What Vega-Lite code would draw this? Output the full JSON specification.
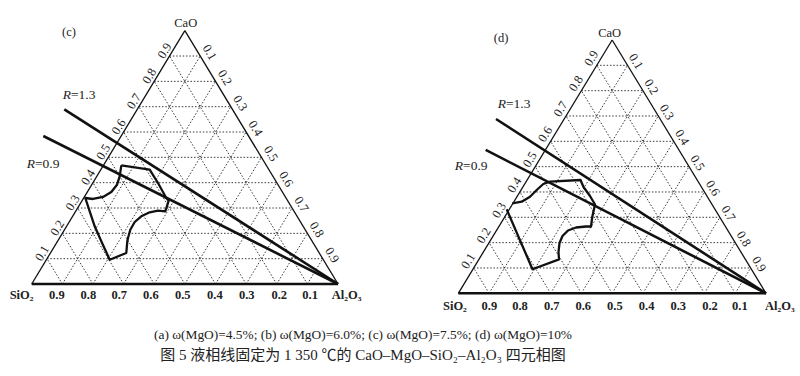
{
  "$schema": "https://vega.github.io/schema/vega-lite/v6.json",
  "padding": 0,
  "background": "white",
  "spacing": 0,
  "config": {"view": {"stroke": null}, "font": "Liberation Serif"},
  "title": {
    "text": "(a) ω(MgO)=4.5%; (b) ω(MgO)=6.0%; (c) ω(MgO)=7.5%; (d) ω(MgO)=10%",
    "subtitle": "图 5  液相线固定为 1 350 ℃的 CaO–MgO–SiO₂–Al₂O₃ 四元相图",
    "orient": "bottom",
    "anchor": "middle",
    "dx": -37,
    "offset": 8,
    "font": "Liberation Serif",
    "fontSize": 13.4,
    "fontWeight": "normal",
    "color": "#222222",
    "subtitleFont": "Liberation Serif, Noto Sans CJK SC",
    "subtitleFontSize": 15,
    "subtitleColor": "#222222",
    "subtitlePadding": 7
  },
  "datasets": {
    "grid": [
      {"x": 0.05, "y": 0.1, "x2": 0.95, "y2": 0.1},
      {"x": 0.1, "y": 0.2, "x2": 0.9, "y2": 0.2},
      {"x": 0.15, "y": 0.3, "x2": 0.85, "y2": 0.3},
      {"x": 0.2, "y": 0.4, "x2": 0.8, "y2": 0.4},
      {"x": 0.25, "y": 0.5, "x2": 0.75, "y2": 0.5},
      {"x": 0.3, "y": 0.6, "x2": 0.7, "y2": 0.6},
      {"x": 0.35, "y": 0.7, "x2": 0.65, "y2": 0.7},
      {"x": 0.4, "y": 0.8, "x2": 0.6, "y2": 0.8},
      {"x": 0.45, "y": 0.9, "x2": 0.55, "y2": 0.9},
      {"x": 0.1, "y": 0, "x2": 0.55, "y2": 0.9},
      {"x": 0.2, "y": 0, "x2": 0.6, "y2": 0.8},
      {"x": 0.3, "y": 0, "x2": 0.65, "y2": 0.7},
      {"x": 0.4, "y": 0, "x2": 0.7, "y2": 0.6},
      {"x": 0.5, "y": 0, "x2": 0.75, "y2": 0.5},
      {"x": 0.6, "y": 0, "x2": 0.8, "y2": 0.4},
      {"x": 0.7, "y": 0, "x2": 0.85, "y2": 0.3},
      {"x": 0.8, "y": 0, "x2": 0.9, "y2": 0.2},
      {"x": 0.9, "y": 0, "x2": 0.95, "y2": 0.1},
      {"x": 0.1, "y": 0, "x2": 0.05, "y2": 0.1},
      {"x": 0.2, "y": 0, "x2": 0.1, "y2": 0.2},
      {"x": 0.3, "y": 0, "x2": 0.15, "y2": 0.3},
      {"x": 0.4, "y": 0, "x2": 0.2, "y2": 0.4},
      {"x": 0.5, "y": 0, "x2": 0.25, "y2": 0.5},
      {"x": 0.6, "y": 0, "x2": 0.3, "y2": 0.6},
      {"x": 0.7, "y": 0, "x2": 0.35, "y2": 0.7},
      {"x": 0.8, "y": 0, "x2": 0.4, "y2": 0.8},
      {"x": 0.9, "y": 0, "x2": 0.45, "y2": 0.9}
    ],
    "sides": [
      {"x": 0, "y": 0, "x2": 0.5, "y2": 1},
      {"x": 1, "y": 0, "x2": 0.5, "y2": 1}
    ],
    "base": [
      {"x": 0, "y": 0, "x2": 1, "y2": 0}
    ],
    "rlines": [
      {"panel": "c", "R": "1.3", "x": 0.1064, "y": 0.6897, "x2": 1, "y2": 0},
      {"panel": "c", "R": "0.9", "x": 0.0379, "y": 0.5843, "x2": 1, "y2": 0},
      {"panel": "d", "R": "1.3", "x": 0.1225, "y": 0.688, "x2": 1, "y2": 0},
      {"panel": "d", "R": "0.9", "x": 0.089, "y": 0.566, "x2": 1, "y2": 0}
    ],
    "curve": [
      {"panel": "c", "i": 0, "x": 0.2925, "y": 0.4686},
      {"panel": "c", "i": 1, "x": 0.3852, "y": 0.4512},
      {"panel": "c", "i": 2, "x": 0.4123, "y": 0.3987},
      {"panel": "c", "i": 3, "x": 0.4394, "y": 0.3395},
      {"panel": "c", "i": 4, "x": 0.4473, "y": 0.3289},
      {"panel": "c", "i": 5, "x": 0.4362, "y": 0.287},
      {"panel": "c", "i": 6, "x": 0.4123, "y": 0.2894},
      {"panel": "c", "i": 7, "x": 0.3852, "y": 0.2831},
      {"panel": "c", "i": 8, "x": 0.3578, "y": 0.2673},
      {"panel": "c", "i": 9, "x": 0.3363, "y": 0.2448},
      {"panel": "c", "i": 10, "x": 0.3219, "y": 0.2144},
      {"panel": "c", "i": 11, "x": 0.3144, "y": 0.1816},
      {"panel": "c", "i": 12, "x": 0.3121, "y": 0.1686},
      {"panel": "c", "i": 13, "x": 0.3088, "y": 0.1224},
      {"panel": "c", "i": 14, "x": 0.2547, "y": 0.0959},
      {"panel": "c", "i": 15, "x": 0.2272, "y": 0.1686},
      {"panel": "c", "i": 16, "x": 0.2057, "y": 0.2278},
      {"panel": "c", "i": 17, "x": 0.1894, "y": 0.287},
      {"panel": "c", "i": 18, "x": 0.175, "y": 0.3395},
      {"panel": "c", "i": 19, "x": 0.2001, "y": 0.3356},
      {"panel": "c", "i": 20, "x": 0.2328, "y": 0.3435},
      {"panel": "c", "i": 21, "x": 0.2599, "y": 0.3632},
      {"panel": "c", "i": 22, "x": 0.2785, "y": 0.392},
      {"panel": "c", "i": 23, "x": 0.2873, "y": 0.4252},
      {"panel": "c", "i": 24, "x": 0.2925, "y": 0.4686},
      {"panel": "d", "i": 0, "x": 0.1573, "y": 0.3316},
      {"panel": "d", "i": 1, "x": 0.2411, "y": 0.0948},
      {"panel": "d", "i": 2, "x": 0.3273, "y": 0.1342},
      {"panel": "d", "i": 3, "x": 0.3256, "y": 0.163},
      {"panel": "d", "i": 4, "x": 0.3289, "y": 0.1986},
      {"panel": "d", "i": 5, "x": 0.3386, "y": 0.2262},
      {"panel": "d", "i": 6, "x": 0.3565, "y": 0.2479},
      {"panel": "d", "i": 7, "x": 0.3825, "y": 0.2598},
      {"panel": "d", "i": 8, "x": 0.415, "y": 0.2637},
      {"panel": "d", "i": 9, "x": 0.4313, "y": 0.2637},
      {"panel": "d", "i": 10, "x": 0.4355, "y": 0.3024},
      {"panel": "d", "i": 11, "x": 0.4443, "y": 0.3506},
      {"panel": "d", "i": 12, "x": 0.428, "y": 0.3841},
      {"panel": "d", "i": 13, "x": 0.4069, "y": 0.4197},
      {"panel": "d", "i": 14, "x": 0.3971, "y": 0.4473},
      {"panel": "d", "i": 15, "x": 0.298, "y": 0.4406},
      {"panel": "d", "i": 16, "x": 0.2762, "y": 0.4315},
      {"panel": "d", "i": 17, "x": 0.2548, "y": 0.4078},
      {"panel": "d", "i": 18, "x": 0.233, "y": 0.3814},
      {"panel": "d", "i": 19, "x": 0.206, "y": 0.3616},
      {"panel": "d", "i": 20, "x": 0.1755, "y": 0.3553}
    ],
    "leftTicks": [
      {"label": "0.1", "x": 0.05, "y": 0.1},
      {"label": "0.2", "x": 0.1, "y": 0.2},
      {"label": "0.3", "x": 0.15, "y": 0.3},
      {"label": "0.4", "x": 0.2, "y": 0.4},
      {"label": "0.5", "x": 0.25, "y": 0.5},
      {"label": "0.6", "x": 0.3, "y": 0.6},
      {"label": "0.7", "x": 0.35, "y": 0.7},
      {"label": "0.8", "x": 0.4, "y": 0.8},
      {"label": "0.9", "x": 0.45, "y": 0.9}
    ],
    "rightTicks": [
      {"label": "0.1", "x": 0.55, "y": 0.9},
      {"label": "0.2", "x": 0.6, "y": 0.8},
      {"label": "0.3", "x": 0.65, "y": 0.7},
      {"label": "0.4", "x": 0.7, "y": 0.6},
      {"label": "0.5", "x": 0.75, "y": 0.5},
      {"label": "0.6", "x": 0.8, "y": 0.4},
      {"label": "0.7", "x": 0.85, "y": 0.3},
      {"label": "0.8", "x": 0.9, "y": 0.2},
      {"label": "0.9", "x": 0.95, "y": 0.1}
    ],
    "bottomTicks": [
      {"panel": "c", "label": "0.9", "x": 0.082, "y": -0.0434},
      {"panel": "c", "label": "0.8", "x": 0.185, "y": -0.0434},
      {"panel": "c", "label": "0.7", "x": 0.286, "y": -0.0434},
      {"panel": "c", "label": "0.6", "x": 0.389, "y": -0.0434},
      {"panel": "c", "label": "0.5", "x": 0.493, "y": -0.0434},
      {"panel": "c", "label": "0.4", "x": 0.598, "y": -0.0434},
      {"panel": "c", "label": "0.3", "x": 0.702, "y": -0.0434},
      {"panel": "c", "label": "0.2", "x": 0.808, "y": -0.0434},
      {"panel": "c", "label": "0.1", "x": 0.909, "y": -0.0434},
      {"panel": "d", "label": "0.9", "x": 0.101, "y": -0.0501},
      {"panel": "d", "label": "0.8", "x": 0.2005, "y": -0.0501},
      {"panel": "d", "label": "0.7", "x": 0.3035, "y": -0.0501},
      {"panel": "d", "label": "0.6", "x": 0.406, "y": -0.0501},
      {"panel": "d", "label": "0.5", "x": 0.509, "y": -0.0501},
      {"panel": "d", "label": "0.4", "x": 0.612, "y": -0.0501},
      {"panel": "d", "label": "0.3", "x": 0.715, "y": -0.0501},
      {"panel": "d", "label": "0.2", "x": 0.818, "y": -0.0501},
      {"panel": "d", "label": "0.1", "x": 0.915, "y": -0.0501}
    ],
    "vertexLabels": [
      {"panel": "c", "label": "SiO₂", "x": -0.033, "y": -0.0434},
      {"panel": "c", "label": "Al₂O₃", "x": 1.028, "y": -0.0434},
      {"panel": "d", "label": "SiO₂", "x": -0.011, "y": -0.0501},
      {"panel": "d", "label": "Al₂O₃", "x": 1.045, "y": -0.0501}
    ],
    "annot": [
      {"panel": "c", "text": "CaO", "x": 0.5028, "y": 1.0316},
      {"panel": "c", "text": "(c)", "x": 0.1218, "y": 0.9949},
      {"panel": "d", "text": "CaO", "x": 0.492, "y": 1.0265},
      {"panel": "d", "text": "(d)", "x": 0.1388, "y": 1.0079}
    ],
    "rlabels": [
      {"panel": "c", "v": "=1.3", "x": 0.1283, "y": 0.7462},
      {"panel": "c", "v": "=0.9", "x": 0.0108, "y": 0.4738},
      {"panel": "d", "v": "=1.3", "x": 0.155, "y": 0.7473},
      {"panel": "d", "v": "=0.9", "x": 0.0153, "y": 0.5038}
    ]
  },
  "hconcat": [
    {
      "width": 400,
      "height": 320,
      "encoding": {
        "x": {"field": "x", "type": "quantitative", "scale": {"domain": [-0.1035, 1.2024], "nice": false, "zero": false}, "axis": null},
        "y": {"field": "y", "type": "quantitative", "scale": {"domain": [-0.1421, 1.1212], "nice": false, "zero": false}, "axis": null}
      },
      "layer": [
        {"data": {"name": "grid"}, "mark": {"type": "rule", "color": "#222222", "strokeWidth": 0.9, "strokeDash": [1.5, 1.8]}, "encoding": {"x2": {"field": "x2"}, "y2": {"field": "y2"}}},
        {"data": {"name": "sides"}, "mark": {"type": "rule", "color": "#111111", "strokeWidth": 1.3}, "encoding": {"x2": {"field": "x2"}, "y2": {"field": "y2"}}},
        {"data": {"name": "base"}, "mark": {"type": "rule", "color": "#111111", "strokeWidth": 2.6}, "encoding": {"x2": {"field": "x2"}, "y2": {"field": "y2"}}},
        {"data": {"name": "rlines"}, "transform": [{"filter": "datum.panel === 'c'"}], "mark": {"type": "rule", "color": "#111111", "strokeWidth": 2.6}, "encoding": {"x2": {"field": "x2"}, "y2": {"field": "y2"}}},
        {"data": {"name": "curve"}, "transform": [{"filter": "datum.panel === 'c'"}], "mark": {"type": "line", "color": "#111111", "strokeWidth": 2.3, "strokeJoin": "round"}, "encoding": {"order": {"field": "i", "type": "quantitative"}}},
        {"data": {"name": "leftTicks"}, "mark": {"type": "text", "angle": 301.35, "dx": 2, "dy": -7, "fontSize": 12.5, "color": "#222222", "baseline": "middle"}, "encoding": {"text": {"field": "label"}}},
        {"data": {"name": "rightTicks"}, "mark": {"type": "text", "angle": 58.65, "dx": 1.8, "dy": -10, "fontSize": 12.5, "color": "#222222", "baseline": "middle"}, "encoding": {"text": {"field": "label"}}},
        {"data": {"name": "bottomTicks"}, "transform": [{"filter": "datum.panel === 'c'"}], "mark": {"type": "text", "fontSize": 12.5, "fontWeight": "bold", "color": "#222222", "baseline": "middle"}, "encoding": {"text": {"field": "label"}}},
        {"data": {"name": "vertexLabels"}, "transform": [{"filter": "datum.panel === 'c'"}], "mark": {"type": "text", "fontSize": 12.5, "fontWeight": "bold", "color": "#222222", "baseline": "middle"}, "encoding": {"text": {"field": "label"}}},
        {"data": {"name": "annot"}, "transform": [{"filter": "datum.panel === 'c'"}], "mark": {"type": "text", "fontSize": 12.5, "color": "#222222", "baseline": "middle"}, "encoding": {"text": {"field": "text"}}},
        {"data": {"name": "rlabels"}, "transform": [{"filter": "datum.panel === 'c'"}], "mark": {"type": "text", "fontSize": 13.5, "fontStyle": "italic", "color": "#222222", "baseline": "middle", "align": "right"}, "encoding": {"text": {"value": "R"}}},
        {"data": {"name": "rlabels"}, "transform": [{"filter": "datum.panel === 'c'"}], "mark": {"type": "text", "fontSize": 13.5, "color": "#222222", "baseline": "middle", "align": "left"}, "encoding": {"text": {"field": "v"}}}
      ]
    },
    {
      "width": 400,
      "height": 320,
      "encoding": {
        "x": {"field": "x", "type": "quantitative", "scale": {"domain": [-0.1895, 1.1105], "nice": false, "zero": false}, "axis": null},
        "y": {"field": "y", "type": "quantitative", "scale": {"domain": [-0.1054, 1.1579], "nice": false, "zero": false}, "axis": null}
      },
      "layer": [
        {"data": {"name": "grid"}, "mark": {"type": "rule", "color": "#222222", "strokeWidth": 0.9, "strokeDash": [1.5, 1.8]}, "encoding": {"x2": {"field": "x2"}, "y2": {"field": "y2"}}},
        {"data": {"name": "sides"}, "mark": {"type": "rule", "color": "#111111", "strokeWidth": 1.3}, "encoding": {"x2": {"field": "x2"}, "y2": {"field": "y2"}}},
        {"data": {"name": "base"}, "mark": {"type": "rule", "color": "#111111", "strokeWidth": 2.6}, "encoding": {"x2": {"field": "x2"}, "y2": {"field": "y2"}}},
        {"data": {"name": "rlines"}, "transform": [{"filter": "datum.panel === 'd'"}], "mark": {"type": "rule", "color": "#111111", "strokeWidth": 2.6}, "encoding": {"x2": {"field": "x2"}, "y2": {"field": "y2"}}},
        {"data": {"name": "curve"}, "transform": [{"filter": "datum.panel === 'd'"}], "mark": {"type": "line", "color": "#111111", "strokeWidth": 2.3, "strokeJoin": "round"}, "encoding": {"order": {"field": "i", "type": "quantitative"}}},
        {"data": {"name": "leftTicks"}, "mark": {"type": "text", "angle": 301.35, "dx": 3.2, "dy": -8.3, "fontSize": 12.5, "color": "#222222", "baseline": "middle"}, "encoding": {"text": {"field": "label"}}},
        {"data": {"name": "rightTicks"}, "mark": {"type": "text", "angle": 58.65, "dx": 1.1, "dy": -9.3, "fontSize": 12.5, "color": "#222222", "baseline": "middle"}, "encoding": {"text": {"field": "label"}}},
        {"data": {"name": "bottomTicks"}, "transform": [{"filter": "datum.panel === 'd'"}], "mark": {"type": "text", "fontSize": 12.5, "fontWeight": "bold", "color": "#222222", "baseline": "middle"}, "encoding": {"text": {"field": "label"}}},
        {"data": {"name": "vertexLabels"}, "transform": [{"filter": "datum.panel === 'd'"}], "mark": {"type": "text", "fontSize": 12.5, "fontWeight": "bold", "color": "#222222", "baseline": "middle"}, "encoding": {"text": {"field": "label"}}},
        {"data": {"name": "annot"}, "transform": [{"filter": "datum.panel === 'd'"}], "mark": {"type": "text", "fontSize": 12.5, "color": "#222222", "baseline": "middle"}, "encoding": {"text": {"field": "text"}}},
        {"data": {"name": "rlabels"}, "transform": [{"filter": "datum.panel === 'd'"}], "mark": {"type": "text", "fontSize": 13.5, "fontStyle": "italic", "color": "#222222", "baseline": "middle", "align": "right"}, "encoding": {"text": {"value": "R"}}},
        {"data": {"name": "rlabels"}, "transform": [{"filter": "datum.panel === 'd'"}], "mark": {"type": "text", "fontSize": 13.5, "color": "#222222", "baseline": "middle", "align": "left"}, "encoding": {"text": {"field": "v"}}}
      ]
    }
  ]
}
